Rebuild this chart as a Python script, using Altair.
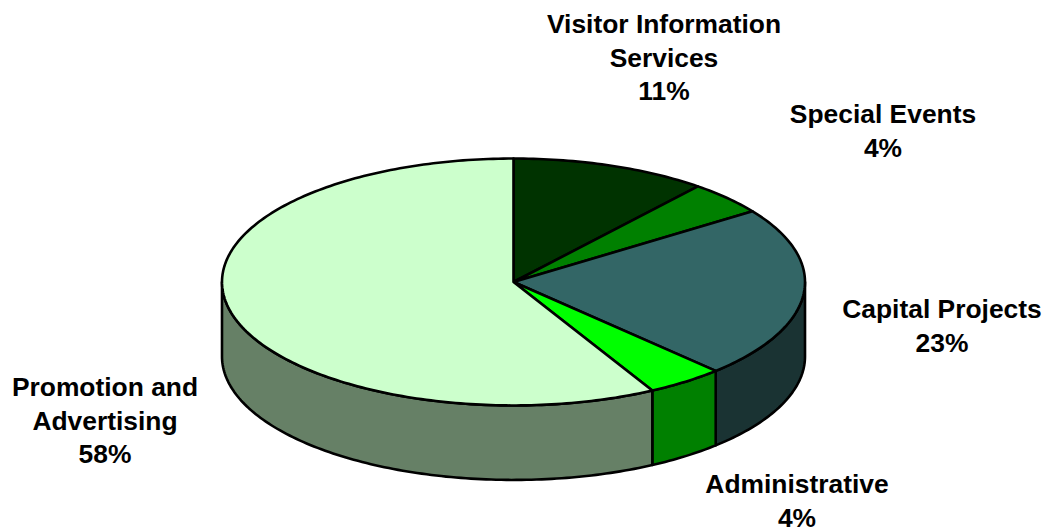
import math
import altair as alt

# Chart values
categories = ["Visitor Information\nServices", "Special Events", "Capital Projects", "Administrative", "Promotion and\nAdvertising"]
shares = [10.9, 4.4, 22.5, 4.3, 57.9]
share_labels = ["11%", "4%", "23%", "4%", "58%"]
top_colors = ["#003300", "#008000", "#336666", "#00FF00", "#CCFFCC"]
wall_colors = ["#001a00", "#004000", "#1A3333", "#008000", "#668066"]

# Pie geometry in unit radii; the projection below places it on the page
TILT = 0.4235
DEPTH = 0.2555
RADIUS_PX = 291.5
CENTER_PX = (505.5, 274)


def rim(a_deg, drop=0.0):
    a = math.radians(a_deg)
    return [math.sin(a), math.cos(a) * TILT - drop]


def sweep(a0, a1):
    n = max(2, int(abs(a1 - a0)) + 1)
    return [a0 + (a1 - a0) * i / n for i in range(n + 1)]


top_features, wall_features = [], []
total = sum(shares)
start = 0.0
for name, share in zip(categories, shares):
    end = start + 360.0 * share / total
    ring = [[0.0, 0.0]] + [rim(a) for a in sweep(start, end)] + [[0.0, 0.0]]
    top_features.append({"type": "Feature", "properties": {"name": name},
                         "geometry": {"type": "Polygon", "coordinates": [ring]}})
    a0, a1 = max(start, 90.0), min(end, 270.0)
    if a1 > a0:
        front = sweep(a0, a1)
        ring = [rim(a) for a in front] + [rim(a, DEPTH) for a in reversed(front)]
        ring.append(ring[0])
        wall_features.append({"type": "Feature", "properties": {"name": name},
                              "geometry": {"type": "Polygon", "coordinates": [ring]}})
    start = end

projection = alt.Projection(type="identity", reflectY=True, scale=RADIUS_PX, translate=list(CENTER_PX))


def face(features, colors, width):
    return (
        alt.Chart(alt.Data(values=features))
        .mark_geoshape(stroke="black", strokeWidth=width, strokeJoin="round")
        .encode(color=alt.Color("properties.name:N",
                                scale=alt.Scale(domain=categories, range=colors),
                                legend=None))
        .project(**projection.to_dict())
    )


label_anchor = {
    categories[0]: (656, 25),
    categories[1]: (875, 115),
    categories[2]: (934, 310),
    categories[3]: (789, 485),
    categories[4]: (97, 388),
}

labels = [
    alt.Chart(alt.Data(values=[{"label": f"{n}\n{s}"}]))
    .mark_text(font="Liberation Sans", fontWeight="bold", fontSize=26.4, color="black",
               align="center", baseline="alphabetic", lineBreak="\n", lineHeight=33.7)
    .encode(x=alt.value(label_anchor[n][0]), y=alt.value(label_anchor[n][1]), text="label:N")
    for n, s in zip(categories, share_labels)
]

chart = (
    alt.layer(face(wall_features, wall_colors, 2.6), face(top_features, top_colors, 2.6), *labels)
    .resolve_scale(color="independent")
    .properties(width=1034, height=523, padding=0, autosize=alt.AutoSizeParams(type="none"))
    .configure_view(stroke=None)
)

chart.save("out.html", embed_options={"renderer": "svg", "actions": False})
